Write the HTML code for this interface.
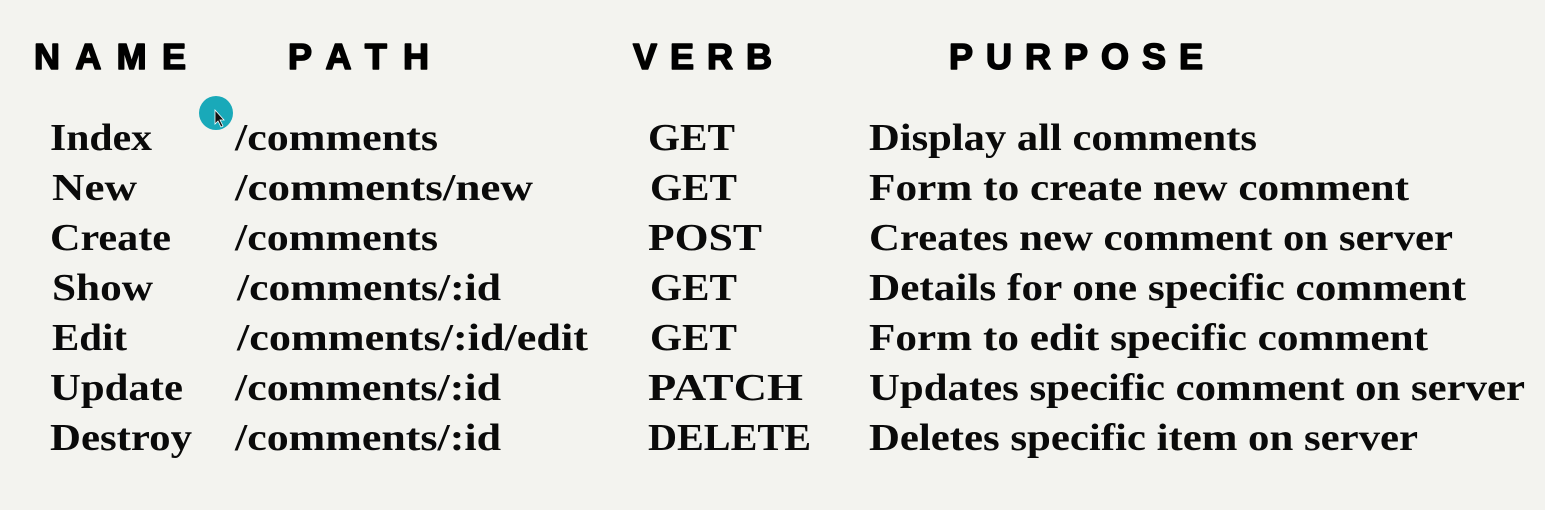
<!DOCTYPE html>
<html><head><meta charset="utf-8"><style>
html,body{margin:0;padding:0;background:#f3f3ef;}
svg{display:block}
.h{font-family:"Liberation Sans",sans-serif;font-weight:bold;font-size:36px;fill:#000;stroke:#000;stroke-width:1.6;stroke-linejoin:round}
.t{font-family:"Liberation Serif",serif;font-weight:bold;font-size:38px;fill:#0a0a0a}
</style></head><body>
<svg width="1545" height="510" viewBox="0 0 1545 510" xmlns="http://www.w3.org/2000/svg">
<rect width="1545" height="510" fill="#f3f3ef"/>
<text class="h" x="34" y="69" textLength="152" lengthAdjust="spacing">NAME</text>
<text class="h" x="288" y="69" textLength="141" lengthAdjust="spacing">PATH</text>
<text class="h" x="633" y="69" textLength="139" lengthAdjust="spacing">VERB</text>
<text class="h" x="949" y="69" textLength="254" lengthAdjust="spacing">PURPOSE</text>

<circle cx="216" cy="113" r="17" fill="#19a9b9"/>
<path d="M215 110 L215 124 L218 121 L221 127 L223 126 L220 120 L224 120 Z" fill="#111" stroke="#fff" stroke-width="0.8"/>

<g class="t">
<text x="50" y="150" textLength="102" lengthAdjust="spacingAndGlyphs">Index</text>
<text x="235" y="150" textLength="203" lengthAdjust="spacingAndGlyphs">/comments</text>
<text x="648" y="150" textLength="87" lengthAdjust="spacingAndGlyphs">GET</text>
<text x="869" y="150" textLength="388" lengthAdjust="spacingAndGlyphs">Display all comments</text>

<text x="52" y="200" textLength="85" lengthAdjust="spacingAndGlyphs">New</text>
<text x="235" y="200" textLength="298" lengthAdjust="spacingAndGlyphs">/comments/new</text>
<text x="650" y="200" textLength="87" lengthAdjust="spacingAndGlyphs">GET</text>
<text x="869" y="200" textLength="540" lengthAdjust="spacingAndGlyphs">Form to create new comment</text>

<text x="50" y="250" textLength="121" lengthAdjust="spacingAndGlyphs">Create</text>
<text x="235" y="250" textLength="203" lengthAdjust="spacingAndGlyphs">/comments</text>
<text x="648" y="250" textLength="114" lengthAdjust="spacingAndGlyphs">POST</text>
<text x="869" y="250" textLength="584" lengthAdjust="spacingAndGlyphs">Creates new comment on server</text>

<text x="52" y="300" textLength="101" lengthAdjust="spacingAndGlyphs">Show</text>
<text x="237" y="300" textLength="264" lengthAdjust="spacingAndGlyphs">/comments/:id</text>
<text x="650" y="300" textLength="87" lengthAdjust="spacingAndGlyphs">GET</text>
<text x="869" y="300" textLength="597" lengthAdjust="spacingAndGlyphs">Details for one specific comment</text>

<text x="52" y="350" textLength="75" lengthAdjust="spacingAndGlyphs">Edit</text>
<text x="237" y="350" textLength="351" lengthAdjust="spacingAndGlyphs">/comments/:id/edit</text>
<text x="650" y="350" textLength="87" lengthAdjust="spacingAndGlyphs">GET</text>
<text x="869" y="350" textLength="559" lengthAdjust="spacingAndGlyphs">Form to edit specific comment</text>

<text x="50" y="400" textLength="133" lengthAdjust="spacingAndGlyphs">Update</text>
<text x="235" y="400" textLength="266" lengthAdjust="spacingAndGlyphs">/comments/:id</text>
<text x="648" y="400" textLength="155" lengthAdjust="spacingAndGlyphs">PATCH</text>
<text x="869" y="400" textLength="656" lengthAdjust="spacingAndGlyphs">Updates specific comment on server</text>

<text x="50" y="450" textLength="142" lengthAdjust="spacingAndGlyphs">Destroy</text>
<text x="235" y="450" textLength="266" lengthAdjust="spacingAndGlyphs">/comments/:id</text>
<text x="648" y="450" textLength="163" lengthAdjust="spacingAndGlyphs">DELETE</text>
<text x="869" y="450" textLength="549" lengthAdjust="spacingAndGlyphs">Deletes specific item on server</text>
</g>
</svg>
</body></html>
